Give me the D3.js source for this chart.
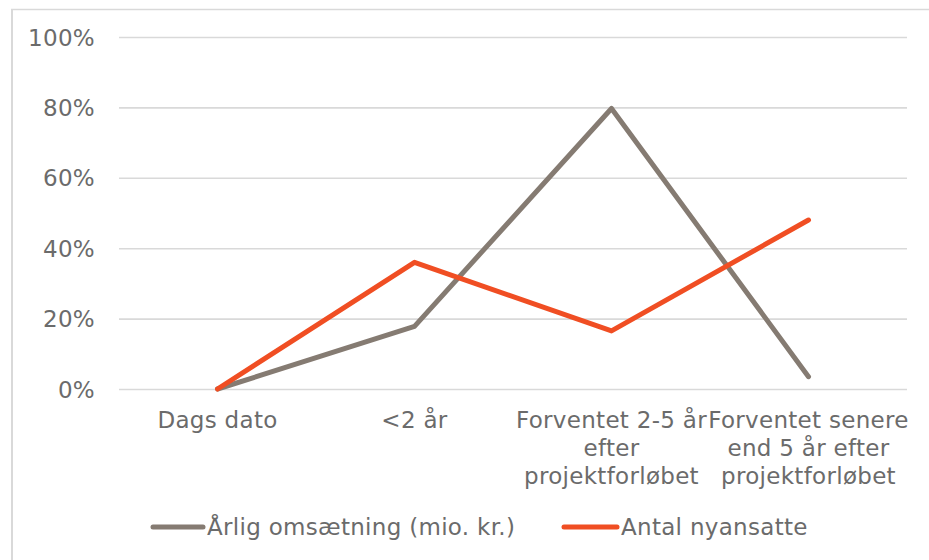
<!DOCTYPE html>
<html><head><meta charset="utf-8">
<script src="https://cdn.jsdelivr.net/npm/d3@7"></script>
<style>
html,body{margin:0;padding:0;background:#fff;}
svg{display:block;}
text{font-family:"DejaVu Sans",Verdana,sans-serif;fill:#6b6b6b;letter-spacing:0.3px;}
</style></head>
<body>
<svg id="chart" width="929" height="560"></svg>
<script>
const categories = [
  ["Dags dato"],
  ["<2 år"],
  ["Forventet 2-5 år", "efter", "projektforløbet"],
  ["Forventet senere", "end 5 år efter", "projektforløbet"]
];
const seriesNames = ["Årlig omsætning (mio. kr.)", "Antal nyansatte"];
const seriesColors = ["#857b72", "#f04e23"];
const omsaetning = [0, 0.178, 0.797, 0.035];
const nyansatte = [0, 0.36, 0.165, 0.48];
const yTicks = [0, 0.2, 0.4, 0.6, 0.8, 1.0];

const svg = d3.select("#chart");
const margin = {left:119, right:22, top:37, bottom:171};
const W = 929, H = 560;
const innerW = W - margin.left - margin.right;
const innerH = H - margin.top - margin.bottom;
const fs = "23px";

// frame
svg.append("line").attr("x1",12).attr("x2",12).attr("y1",9).attr("y2",H).attr("stroke","#d9d9d9").attr("stroke-width",2);
svg.append("line").attr("x1",11).attr("x2",W).attr("y1",9.5).attr("y2",9.5).attr("stroke","#d9d9d9").attr("stroke-width",1.5);

const g = svg.append("g").attr("transform",`translate(${margin.left},${margin.top})`);
const x = d3.scaleBand().domain(d3.range(categories.length)).range([0, innerW]);
const y = d3.scaleLinear().domain([0,1]).range([innerH,0]);

// gridlines
const yAxis = d3.axisLeft(y).tickValues(yTicks).tickSize(-innerW).tickFormat(d3.format(".0%")).tickPadding(24);
const ya = g.append("g").call(yAxis);
ya.select(".domain").remove();
ya.selectAll(".tick line").attr("stroke","#d9d9d9").attr("stroke-width",1.6);
ya.selectAll(".tick text").style("font-size",fs).attr("fill","#6b6b6b").attr("dy","0.35em");

// x labels
const xa = g.append("g").attr("transform",`translate(0,${innerH})`);
categories.forEach((lines,i)=>{
  const t = xa.append("text").attr("text-anchor","middle")
    .attr("x", x(i)+x.bandwidth()/2).attr("y", 39).style("font-size",fs);
  lines.forEach((ln,j)=>{
    t.append("tspan").attr("x", x(i)+x.bandwidth()/2).attr("dy", j===0?0:28).text(ln);
  });
});

const line = d3.line().x((d,i)=>x(i)+x.bandwidth()/2).y(d=>y(d));
[omsaetning, nyansatte].forEach((data,k)=>{
  g.append("path").datum(data).attr("d",line).attr("fill","none")
    .attr("stroke",seriesColors[k]).attr("stroke-width",5)
    .attr("stroke-linejoin","round").attr("stroke-linecap","round");
});

// legend
const legendItems = [{x:153, w:50}, {x:564, w:53}];
seriesNames.forEach((name,k)=>{
  const lg = svg.append("g");
  lg.append("line").attr("x1",legendItems[k].x).attr("x2",legendItems[k].x+legendItems[k].w)
    .attr("y1",527).attr("y2",527).attr("stroke",seriesColors[k]).attr("stroke-width",5).attr("stroke-linecap","round");
  lg.append("text").attr("x",legendItems[k].x+legendItems[k].w+4).attr("y",527).attr("dy","0.35em")
    .style("font-size",fs).text(name);
});
</script>
</body></html>
